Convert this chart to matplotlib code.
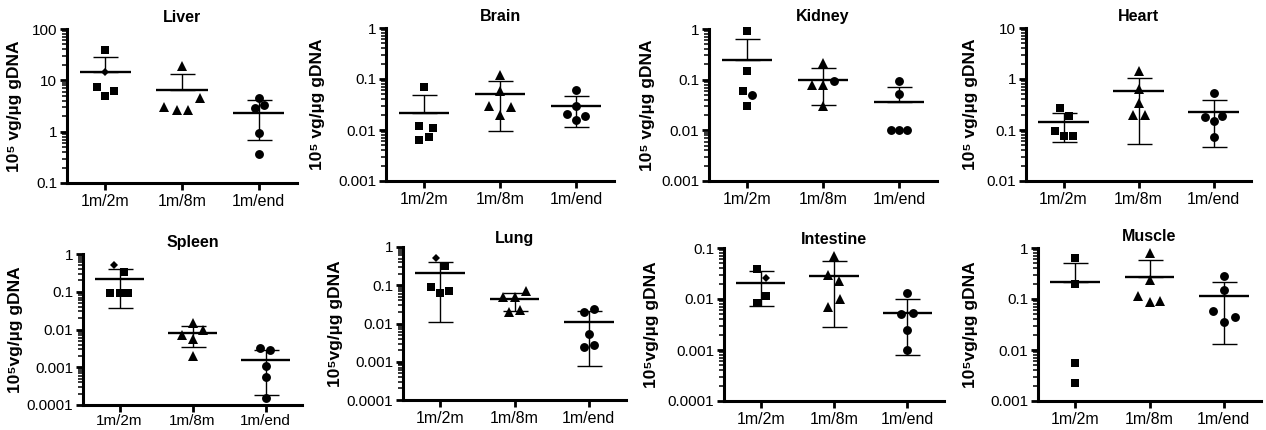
import numpy as np
import matplotlib
matplotlib.use("Agg")
import matplotlib.pyplot as plt
from matplotlib.ticker import FixedLocator, NullFormatter, FuncFormatter

plt.rcParams['font.family'] = ['Liberation Sans', 'DejaVu Sans']

groups = ["1m/2m", "1m/8m", "1m/end"]
organs = ["Liver", "Brain", "Kidney", "Heart", "Spleen", "Lung", "Intestine", "Muscle"]
ylabel_top = "10\u2075 vg/\u00b5g gDNA"
ylabel_bottom = "10\u2075vg/\u00b5g gDNA"

# ---- data (10^5 vg / ug gDNA) ----
liver_vals = [[39, 14.5, 7.4, 6.1, 4.9], [18.8, 4.6, 3.0, 2.7, 2.7], [4.5, 2.9, 3.3, 0.96, 0.36]]
liver_mean = [14.5, 6.5, 2.36]
liver_hi = [28.7, 13.5, 4.1]
liver_lo = [None, None, 0.69]
liver_ylim = [0.1, 100]

brain_vals = [[0.069, 0.012, 0.011, 0.0074, 0.0064], [0.121, 0.057, 0.029, 0.028, 0.020],
              [0.060, 0.030, 0.021, 0.019, 0.016]]
brain_mean = [0.0214, 0.050, 0.029]
brain_hi = [0.048, 0.091, 0.046]
brain_lo = [None, 0.0095, 0.0112]
brain_ylim = [0.001, 1]

kidney_vals = [[0.93, 0.146, 0.061, 0.030, 0.050], [0.21, 0.079, 0.079, 0.030, 0.093],
               [0.095, 0.052, 0.01, 0.01, 0.01]]
kidney_mean = [0.24, 0.10, 0.0355]
kidney_hi = [0.63, 0.172, 0.071]
kidney_lo = [None, 0.032, None]
kidney_ylim = [0.001, 1]

heart_vals = [[0.264, 0.192, 0.095, 0.077, 0.077], [1.41, 0.63, 0.34, 0.198, 0.198],
              [0.52, 0.178, 0.184, 0.151, 0.072]]
heart_mean = [0.142, 0.578, 0.224]
heart_hi = [0.22, 1.07, 0.39]
heart_lo = [0.057, 0.054, 0.047]
heart_ylim = [0.01, 10]

spleen_vals = [[0.50, 0.33, 0.094, 0.094, 0.094], [0.0149, 0.0070, 0.0100, 0.0055, 0.0020],
               [0.00333, 0.00283, 0.0011, 0.00054, 0.000152]]
spleen_mean = [0.218, 0.0080, 0.00158]
spleen_hi = [0.40, 0.0125, 0.00295]
spleen_lo = [0.038, 0.0034, 0.000179]
spleen_ylim = [0.0001, 1]

lung_vals = [[0.515, 0.324, 0.088, 0.072, 0.062], [0.072, 0.050, 0.050, 0.0194, 0.0219],
             [0.0237, 0.0194, 0.0054, 0.0025, 0.00276]]
lung_mean = [0.208, 0.0426, 0.0108]
lung_hi = [0.40, 0.0636, 0.0206]
lung_lo = [0.0111, 0.0206, 0.00079]
lung_ylim = [0.0001, 1]

intestine_vals = [[0.0386, 0.0257, 0.0117, 0.0085], [0.0706, 0.0299, 0.0228, 0.0100, 0.0071],
                  [0.0130, 0.0051, 0.0054, 0.0025, 0.00099]]
intestine_mean = [0.0208, 0.0285, 0.0052]
intestine_hi = [0.0347, 0.0546, 0.010]
intestine_lo = [0.0074, 0.0028, 0.00079]
intestine_ylim = [0.0001, 0.1]

muscle_vals = [[0.635, 0.201, 0.0056, 0.00226], [0.797, 0.231, 0.117, 0.0863, 0.0918],
               [0.277, 0.151, 0.059, 0.045, 0.0359]]
muscle_mean = [0.211, 0.268, 0.115]
muscle_hi = [0.507, 0.571, 0.211]
muscle_lo = [None, None, 0.0130]
muscle_ylim = [0.001, 1]

# ---- marker shapes and horizontal scatter (style/layout) ----
liver_mk = [list("sDsss"), list("^^^^^"), list("ooooo")]
liver_dx = [[0, 0, -0.114, 0.118, 0], [0, 0.23, -0.23, -0.06, 0.08], [0, -0.05, 0.07, 0, 0]]
brain_mk = [list("sssss"), list("^^^^^"), list("ooooo")]
brain_dx = [[0, -0.06, 0.12, 0.06, -0.06], [0, 0, -0.15, 0.15, 0], [0, 0, -0.12, 0.12, 0]]
kidney_mk = [list("sssso"), list("^^^^o"), list("ooooo")]
kidney_dx = [[0, 0, -0.05, 0, 0.07], [0, -0.145, 0, 0, 0.145], [0, 0, -0.11, 0, 0.11]]
heart_mk = [list("sssss"), list("^^^^^"), list("ooooo")]
heart_dx = [[-0.05, 0.07, -0.11, 0, 0.12], [0, 0, 0, -0.07, 0.08], [0, -0.12, 0.11, 0, 0]]
spleen_mk = [list("Dssss"), list("^^^^^"), list("ooooo")]
spleen_dx = [[-0.07, 0.06, -0.13, 0, 0.12], [0, -0.15, 0.15, 0, 0], [-0.07, 0.06, 0, 0, 0]]
lung_mk = [list("Dssss"), list("^^^^^"), list("ooooo")]
lung_dx = [[-0.06, 0.07, -0.12, 0.12, 0], [0.15, -0.15, 0, -0.07, 0.07], [0.07, -0.07, 0, -0.07, 0.07]]
intestine_mk = [list("sDss"), list("^^^^^"), list("ooooo")]
intestine_dx = [[-0.05, 0.07, 0.07, -0.05], [0, -0.08, 0.07, 0.08, -0.08], [0, -0.08, 0.08, 0, 0]]
muscle_mk = [list("ssss"), list("^^^^^"), list("ooooo")]
muscle_dx = [[0, 0, 0, 0], [0, 0, -0.155, 0, 0.145], [0, 0, -0.15, 0.15, 0]]

vals = [liver_vals, brain_vals, kidney_vals, heart_vals, spleen_vals, lung_vals, intestine_vals, muscle_vals]
means = [liver_mean, brain_mean, kidney_mean, heart_mean, spleen_mean, lung_mean, intestine_mean, muscle_mean]
his = [liver_hi, brain_hi, kidney_hi, heart_hi, spleen_hi, lung_hi, intestine_hi, muscle_hi]
los = [liver_lo, brain_lo, kidney_lo, heart_lo, spleen_lo, lung_lo, intestine_lo, muscle_lo]
ylims = [liver_ylim, brain_ylim, kidney_ylim, heart_ylim, spleen_ylim, lung_ylim, intestine_ylim, muscle_ylim]
mks = [liver_mk, brain_mk, kidney_mk, heart_mk, spleen_mk, lung_mk, intestine_mk, muscle_mk]
dxs = [liver_dx, brain_dx, kidney_dx, heart_dx, spleen_dx, lung_dx, intestine_dx, muscle_dx]

W, H = 1266, 430
# axes boxes in pixels: left, right, top, bottom
boxes = [(67, 297, 29, 183), (386, 614, 28, 181), (709, 937, 29, 181), (1026, 1251, 28, 181),
         (83, 302, 254, 405), (403, 626, 247, 400), (724, 944, 248, 401), (1038, 1261, 248, 401)]
label_off = [45, 61, 54, 48, 60, 60, 65, 60]
title_pad = [5, 5, 6, 5, 5, 3, 3, 5]
xlab_pad = [3, 3, 3, 3, 1.5, 3, 3, 3]

msize = {'s': 6.0, '^': 6.8, 'o': 6.4, 'D': 3.6}

fig = plt.figure(figsize=(W / 100, H / 100), dpi=100)

for i, org in enumerate(organs):
    l, r, t, b = boxes[i]
    ax = fig.add_axes([l / W, 1 - b / H, (r - l) / W, (b - t) / H])
    ax.set_yscale('log')
    ax.set_ylim(*ylims[i])
    ax.set_xlim(-0.5, 2.5)
    for g in range(3):
        for v, mk, dx in zip(vals[i][g], mks[i][g], dxs[i][g]):
            ax.plot(g + dx, v, marker=mk, ms=msize[mk], color='black', ls='none',
                    mew=0, clip_on=False, zorder=3)
        m = means[i][g]
        hi = his[i][g]
        lo = los[i][g]
        lower = m - lo if lo is not None else 0.0
        ax.errorbar(g, m, yerr=[[lower], [hi - m]], fmt='none', ecolor='black',
                    elinewidth=1.0, capsize=9, capthick=1.0, zorder=2)
        ax.hlines(m, g - 0.335, g + 0.335, color='black', lw=1.7, zorder=2)
    lo_e = int(round(np.log10(ylims[i][0])))
    hi_e = int(round(np.log10(ylims[i][1])))
    ax.yaxis.set_major_locator(FixedLocator([10.0 ** e for e in range(lo_e, hi_e + 1)]))
    ax.yaxis.set_major_formatter(FuncFormatter(lambda v, p: '{:g}'.format(v)))
    minors = [k * 10.0 ** e for e in range(lo_e, hi_e) for k in range(2, 10)]
    ax.yaxis.set_minor_locator(FixedLocator(minors))
    ax.yaxis.set_minor_formatter(NullFormatter())
    ax.set_xticks(range(3))
    ax.set_xticklabels(groups)
    for s in ['top', 'right']:
        ax.spines[s].set_visible(False)
    for s in ['left', 'bottom']:
        ax.spines[s].set_linewidth(2.2)
    ax.tick_params(axis='both', which='major', length=5, width=2, labelsize=11, pad=2)
    ax.tick_params(axis='x', which='major', pad=xlab_pad[i], labelsize=11.5 if i != 4 else 11)
    ax.tick_params(axis='y', which='minor', length=3.5, width=1.1)
    ax.set_title(org, fontsize=11.5, fontweight='bold', pad=title_pad[i])
    ax.set_ylabel(ylabel_top if i < 4 else ylabel_bottom, fontsize=12.5, fontweight='bold')
    ax.yaxis.set_label_coords(-label_off[i] / (r - l), 0.5)

fig.savefig("out.png", dpi=100)
